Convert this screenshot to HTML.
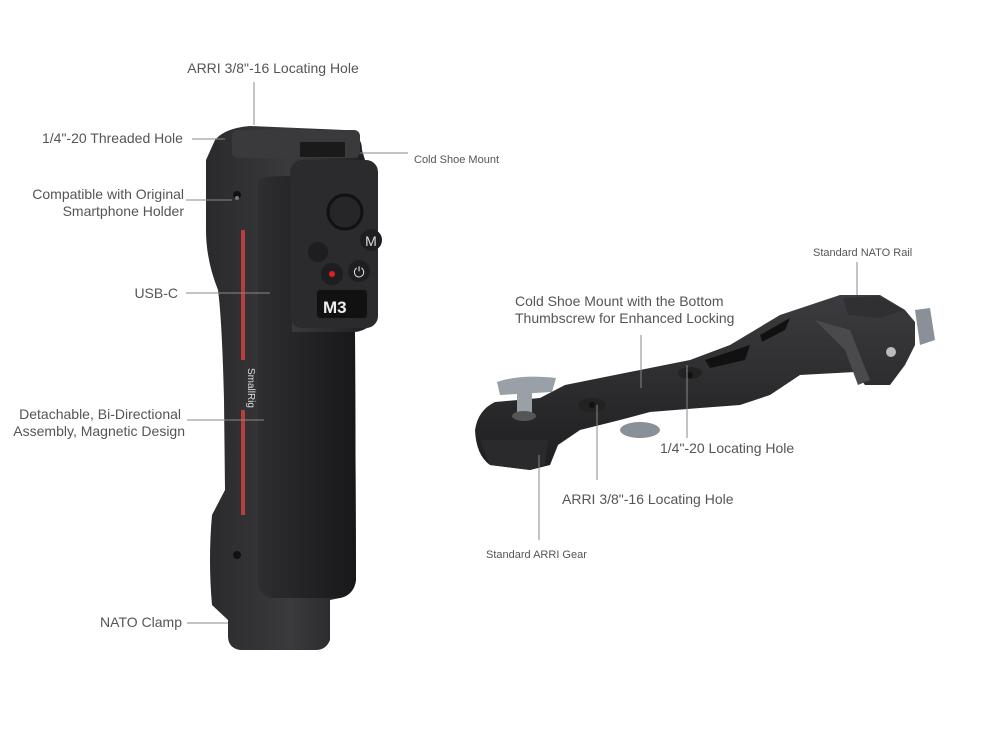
<!DOCTYPE html>
<html><head><meta charset="utf-8"><style>
html,body{margin:0;padding:0;background:#fff;}
svg{display:block}
text{font-family:"Liberation Sans",sans-serif;fill:#555}
</style></head><body>
<svg width="1000" height="751" viewBox="0 0 1000 751" xmlns="http://www.w3.org/2000/svg">
<rect width="1000" height="751" fill="#fff"/>
<defs>
<linearGradient id="g1" x1="0" x2="1"><stop offset="0" stop-color="#2a2a2c"/><stop offset="0.5" stop-color="#3a3a3d"/><stop offset="1" stop-color="#1c1c1e"/></linearGradient>
<linearGradient id="g2" x1="0" x2="1"><stop offset="0" stop-color="#2e2e31"/><stop offset="1" stop-color="#18181a"/></linearGradient>
<linearGradient id="g3" x1="0" y1="0" x2="0" y2="1"><stop offset="0" stop-color="#3c3c3f"/><stop offset="1" stop-color="#1e1e20"/></linearGradient>
</defs>
<!-- handle -->
<path d="M215 140 Q225 128 250 126 L345 130 Q362 134 362 150 L365 160 Q377 165 377 180 L375 315 Q372 330 355 332 L356 580 Q354 595 340 598 L330 600 L330 640 Q326 650 316 650 L240 650 Q228 648 228 636 L228 620 L212 605 Q208 560 212 515 L225 490 L224 400 Q222 320 218 290 Q206 260 206 230 L206 160 Z" fill="url(#g1)"/>
<path d="M258 180 Q262 176 290 176 L292 332 L355 332 L356 580 Q354 595 340 598 L272 598 Q260 596 258 584 Z" fill="url(#g2)"/>
<rect x="290" y="160" width="88" height="168" rx="12" fill="#2b2b2e"/>
<rect x="232" y="130" width="128" height="28" rx="6" fill="#3a3a3d"/>
<rect x="300" y="142" width="45" height="15" fill="#1a1a1a"/>
<circle cx="345" cy="212" r="17" fill="#262628" stroke="#111" stroke-width="3"/>
<circle cx="371" cy="240" r="11" fill="#1e1e20"/><text x="371" y="246" font-size="14" text-anchor="middle" style="fill:#ddd">M</text>
<circle cx="318" cy="252" r="10" fill="#1e1e20"/>
<circle cx="332" cy="274" r="11" fill="#1e1e20"/><circle cx="332" cy="274" r="3" fill="#e02020"/>
<circle cx="359" cy="271" r="11" fill="#1e1e20"/><text x="359" y="277" font-size="14" text-anchor="middle" style="fill:#ddd">⏻</text>
<rect x="317" y="290" width="50" height="28" rx="3" fill="#111"/>
<text x="323" y="313" font-size="17" font-weight="bold" style="fill:#eee">M3</text>
<rect x="241" y="230" width="4" height="130" fill="#d04040" opacity="0.85"/>
<rect x="241" y="410" width="4" height="105" fill="#d04040" opacity="0.85"/>
<text x="248" y="388" font-size="10" transform="rotate(90 248 388)" style="fill:#ddd" text-anchor="middle">SmallRig</text>
<circle cx="237" cy="195" r="4" fill="#111"/><circle cx="237" cy="555" r="4" fill="#111"/><circle cx="237" cy="198" r="2" fill="#777"/>
<!-- arm -->
<ellipse cx="640" cy="430" rx="20" ry="8" fill="#8a9098"/>
<path d="M475 430 Q478 410 495 402 L540 398 L565 385 L640 370 L690 360 L730 345 L780 315 L810 305 L840 295 L880 295 L905 310 L915 322 L915 345 L905 365 L890 385 L865 385 L855 372 L800 375 L770 395 L740 405 L700 408 L650 412 L620 420 L580 430 L558 445 L550 465 L530 470 L490 465 Q476 455 475 430 Z" fill="url(#g3)"/>
<path d="M480 440 L548 440 L545 465 L530 470 L490 465 Z" fill="#2a2a2c"/>
<path d="M815 320 L850 330 L870 380 L858 385 L845 350 Z" fill="#4a4a4d"/>
<path d="M843 298 L878 296 L905 310 L880 318 L848 315 Z" fill="#303033"/>
<path d="M915 310 L930 308 L935 340 L920 345 Z" fill="#8a9098"/>
<circle cx="891" cy="352" r="5" fill="#bbb"/>
<rect x="517" y="385" width="15" height="32" fill="#9aa0a8"/>
<path d="M497 382 Q520 374 556 378 L552 392 L500 395 Z" fill="#9aa0a8"/>
<ellipse cx="524" cy="416" rx="12" ry="5" fill="#555"/>
<ellipse cx="592" cy="405" rx="14" ry="7" fill="#222"/><circle cx="592" cy="405" r="3" fill="#111"/>
<ellipse cx="690" cy="373" rx="12" ry="6" fill="#222"/><circle cx="690" cy="375" r="3" fill="#111"/>
<path d="M705 360 L750 345 L745 360 L710 368 Z" fill="#111"/>
<path d="M760 335 L790 318 L785 330 L762 342 Z" fill="#111"/>
<!-- leader lines -->
<g stroke="#888" stroke-width="1" fill="none">
<path d="M254 82 V125"/><path d="M192 139 H225"/><path d="M360 153 H408"/>
<path d="M186 200 H232"/><path d="M186 293 H270"/><path d="M187 420 H264"/>
<path d="M187 623 H228"/><path d="M857 262 V295"/>
<path d="M641 335 V388"/><path d="M687 365 V438"/><path d="M597 405 V480"/><path d="M539 455 V540"/>
</g>
<g font-size="14">
<text x="273" y="73" text-anchor="middle">ARRI 3/8"-16 Locating Hole</text>
<text x="42" y="143">1/4"-20 Threaded Hole</text>
<text x="184" y="199" text-anchor="end">Compatible with Original</text>
<text x="184" y="216" text-anchor="end">Smartphone Holder</text>
<text x="178" y="298" text-anchor="end">USB-C</text>
<text x="181" y="419" text-anchor="end">Detachable, Bi-Directional</text>
<text x="185" y="436" text-anchor="end">Assembly, Magnetic Design</text>
<text x="182" y="627" text-anchor="end">NATO Clamp</text>
<text x="515" y="306">Cold Shoe Mount with the Bottom</text>
<text x="515" y="323">Thumbscrew for Enhanced Locking</text>
<text x="660" y="453">1/4"-20 Locating Hole</text>
<text x="562" y="504">ARRI 3/8"-16 Locating Hole</text>
</g>
<g font-size="11">
<text x="414" y="163">Cold Shoe Mount</text>
<text x="813" y="256">Standard NATO Rail</text>
<text x="486" y="558">Standard ARRI Gear</text>
</g>
</svg>
</body></html>
